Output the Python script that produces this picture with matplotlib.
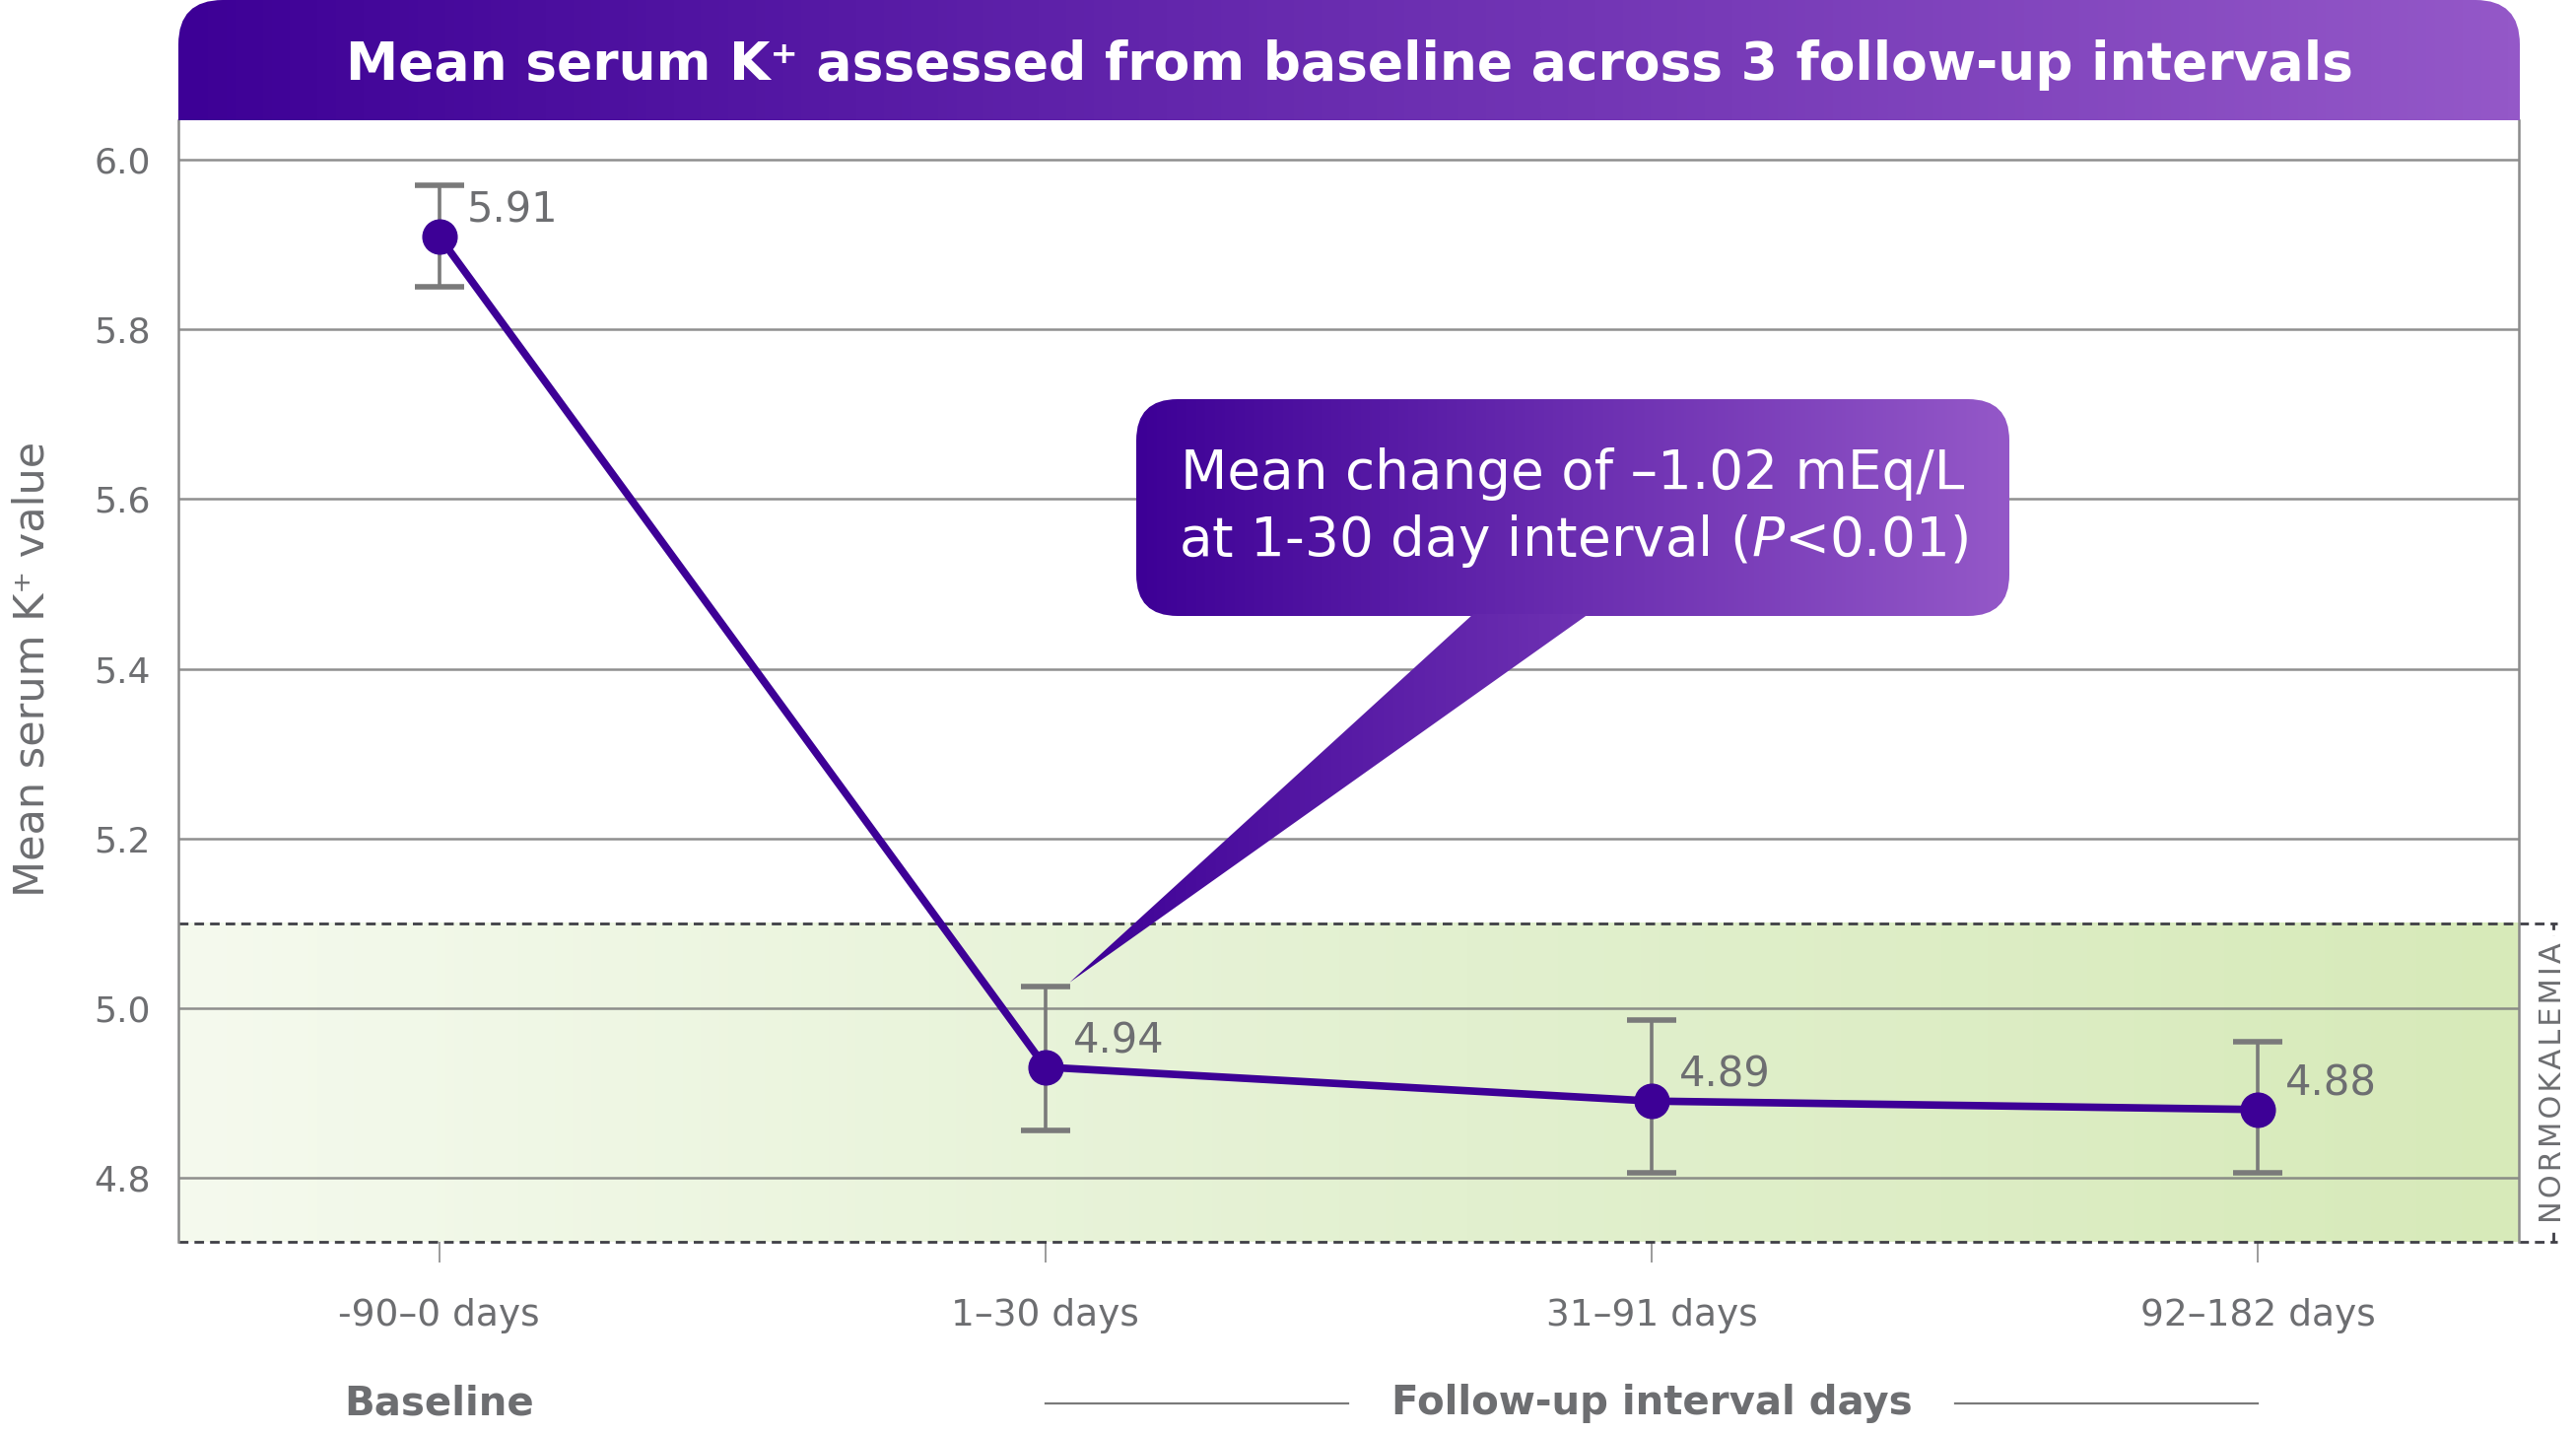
import numpy as np
import matplotlib.pyplot as plt
import matplotlib.transforms as mtransforms
from matplotlib.patches import FancyBboxPatch, Polygon
from matplotlib.colors import LinearSegmentedColormap

# data
intervals = ["-90–0 days", "1–30 days", "31–91 days", "92–182 days"]
k_mean = [5.91, 4.93, 4.89, 4.88]
k_text = ["5.91", "4.94", "4.89", "4.88"]
err_low = [5.85, 4.855, 4.805, 4.805]
err_high = [5.97, 5.025, 4.985, 4.96]
y_ticks = [4.8, 5.0, 5.2, 5.4, 5.6, 5.8, 6.0]
normo_top = 5.1

title = "Mean serum K⁺ assessed from baseline across 3 follow-up intervals"
callout = "Mean change of –1.02 mEq/L\nat 1-30 day interval ($\\mathit{P}$<0.01)"

GRAY = "#6d6e71"
PURPLE = "#3d0096"
plt.rcParams['font.family'] = ['DejaVu Sans']
plt.rcParams['mathtext.fontset'] = 'dejavusans'

W, H = 2614, 1454
fig = plt.figure(figsize=(W / 100, H / 100), dpi=100)

# main axes, placed in pixels
ax_l, ax_r, ax_t, ax_b = 181, 2556, 122, 1260
ax = fig.add_axes([ax_l / W, 1 - ax_b / H, (ax_r - ax_l) / W, (ax_b - ax_t) / H])
xlim = (-0.43, 3.43)
ylim = (4.724, 6.047)

x = np.arange(len(intervals))

# normokalemia band with left->right gradient
green = LinearSegmentedColormap.from_list(
    "g", [(0, "#f5faee"), (0.55, "#e2f0cf"), (1, "#d7eab9")])
grad = np.linspace(0, 1, 512).reshape(1, -1)
ax.imshow(grad, cmap=green, extent=[xlim[0], xlim[1], ylim[0], normo_top],
          aspect='auto', zorder=0, interpolation='bicubic')

for yt in y_ticks:
    ax.axhline(yt, color="#7c7c7c", lw=1.8, alpha=0.85, zorder=1)

# error bars, line and markers
yerr = [np.array(k_mean) - np.array(err_low), np.array(err_high) - np.array(k_mean)]
ax.errorbar(x, k_mean, yerr=yerr, fmt='none', ecolor="#7a7a7a", elinewidth=2.6,
            capsize=18, capthick=4, zorder=3)
ax.plot(x, k_mean, color=PURPLE, lw=5.5, marker='o', ms=25, zorder=4)

for xi, yi, t in zip(x, k_mean, k_text):
    ax.annotate(t, (xi, yi), xytext=(20, 19), textcoords='offset points',
                ha='left', va='center', fontsize=30, color=GRAY, zorder=5)

ax.set_xlim(*xlim)
ax.set_ylim(*ylim)
ax.set_autoscale_on(False)

# dashed frame of the normokalemia band
dash = (0, (3.5, 2.2))
frac_r = 1.0164
ax.axhline(normo_top, xmin=0, xmax=frac_r, color="#3f3f46", lw=2, ls=dash,
           clip_on=False, zorder=2)
ax.axhline(ylim[0], xmin=0, xmax=frac_r, color="#3f3f46", lw=2, ls=dash,
           clip_on=False, zorder=2)
ax.axvline(xlim[0] + 1.0147 * (xlim[1] - xlim[0]), ymin=0,
           ymax=(normo_top - ylim[0]) / (ylim[1] - ylim[0]),
           color="#3f3f46", lw=2, ls=dash, clip_on=False, zorder=2)
ax.text(1.0147, (normo_top + ylim[0]) / 2, "\u200a".join("NORMOKALEMIA"),
        transform=mtransforms.blended_transform_factory(ax.transAxes, ax.transData),
        rotation=90, ha='center', va='center', fontsize=22, color=GRAY,
        bbox=dict(facecolor='white', edgecolor='none', pad=4), clip_on=False, zorder=3)

# axes styling
for s in ['top', 'bottom']:
    ax.spines[s].set_visible(False)
for s in ['left', 'right']:
    ax.spines[s].set_color("#8a8a8a")
    ax.spines[s].set_linewidth(1.8)
ax.set_yticks(y_ticks)
ax.set_yticklabels([f"{v:.1f}" for v in y_ticks])
ax.set_xticks(x)
ax.set_xticklabels(intervals)
ax.tick_params(axis='y', length=0, pad=20, labelsize=26, labelcolor=GRAY)
ax.tick_params(axis='x', length=15, width=1.2, color="#8a8a8a", pad=26,
               labelsize=27, labelcolor=GRAY)

fig.text(33 / W, 1 - 679 / H, "Mean serum K⁺ value", rotation=90, ha='center',
         va='center', fontsize=31, color=GRAY)

# group labels under the ticks
bt = mtransforms.blended_transform_factory(ax.transData, fig.transFigure)
ax.text(0, 1 - 1424 / H, "Baseline", transform=bt, ha='center', va='center',
        fontsize=29, fontweight='bold', color=GRAY)
ax.text(2, 1 - 1424 / H, "Follow-up interval days", transform=bt, ha='center',
        va='center', fontsize=29, fontweight='bold', color=GRAY)
ax.plot([1, 1.5], [1 - 1424 / H] * 2, transform=bt, color="#7a7a7a", lw=1.6, clip_on=False)
ax.plot([2.5, 3], [1 - 1424 / H] * 2, transform=bt, color="#7a7a7a", lw=1.6, clip_on=False)

# overlay in pixel coordinates for title bar and callout
ov = fig.add_axes([0, 0, 1, 1], zorder=10)
ov.set_xlim(0, W)
ov.set_ylim(H, 0)
ov.axis('off')
ov.patch.set_alpha(0)

purple = LinearSegmentedColormap.from_list("p", ["#3d0096", "#6a2db0", "#9458c8"])


def grad_patch(patch, extent):
    patch.set_facecolor('none')
    patch.set_edgecolor('none')
    ov.add_patch(patch)
    im = ov.imshow(grad, cmap=purple, extent=extent, aspect='auto',
                   interpolation='bicubic', zorder=1)
    im.set_clip_path(patch)


# title bar: rounded top corners only
bar = FancyBboxPatch((181, 0), 2557 - 181, 122 + 60,
                     boxstyle="round,pad=0,rounding_size=45")
grad_patch(bar, [181, 2557, 122, 0])
ov.text((181 + 2557) / 2, 66, title, ha='center', va='center', color='white',
        fontsize=38.5, fontweight='bold', zorder=3)

# callout box + tail pointing at the 1-30 day error bar
tip = ax.transData.transform((1.04, 5.03))
tip = (tip[0], H - tip[1])
bx0, bx1, by0, by1 = 1153, 2039, 405, 625
box = FancyBboxPatch((bx0, by0), bx1 - bx0, by1 - by0,
                     boxstyle="round,pad=0,rounding_size=42")
grad_patch(box, [bx0, bx1, by1, by0])
tail = Polygon([(1495, by1 - 2), (1612, by1 - 2), tip], closed=True)
grad_patch(tail, [tip[0], bx1, tip[1], by1 - 2])
ov.text((bx0 + bx1) / 2, 516, callout, ha='center', va='center', color='white',
        fontsize=39.5, linespacing=1.25, zorder=3)

fig.savefig("out.png", dpi=100)
